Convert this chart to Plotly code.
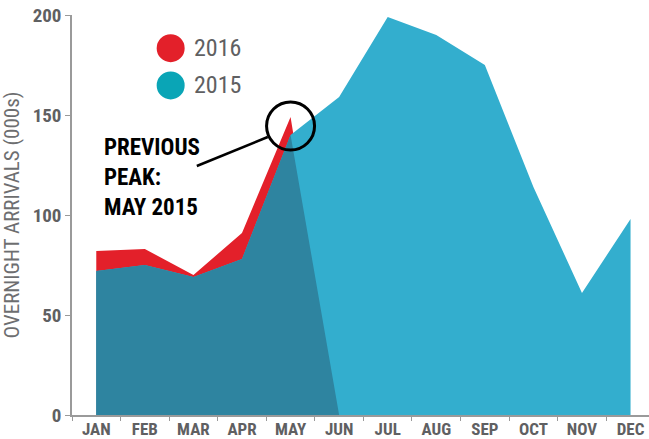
import plotly.graph_objects as go

months = ["JAN", "FEB", "MAR", "APR", "MAY", "JUN", "JUL", "AUG", "SEP", "OCT", "NOV", "DEC"]
arrivals_2015 = [72, 75, 69, 78, 140, 159, 199, 190, 175, 114, 61, 98]
arrivals_2016 = [82, 83, 70, 91, 149]  # Jan-May 2016

RED = "#E3202A"
TEAL = "#33AECE"
DARK = "#2E84A0"
LEG_TEAL = "#0AA5B6"
GREY = "#5F6062"
COND = "Liberation Sans Narrow, Roboto Condensed, DejaVu Sans Condensed, Liberation Sans, Arial"

n16 = len(arrivals_2016)
x16 = months[: n16 + 1]
y16 = arrivals_2016 + [0]
overlap = [min(a, b) for a, b in zip(arrivals_2015, arrivals_2016)] + [0]

fig = go.Figure()
fig.add_trace(go.Scatter(x=x16, y=y16, mode="lines", fill="tozeroy",
                         fillcolor=RED, line=dict(width=0, color=RED),
                         name="2016", showlegend=False, hoverinfo="skip"))
fig.add_trace(go.Scatter(x=months, y=arrivals_2015, mode="lines", fill="tozeroy",
                         fillcolor=TEAL, line=dict(width=0, color=TEAL),
                         name="2015", showlegend=False, hoverinfo="skip"))
fig.add_trace(go.Scatter(x=x16, y=overlap, mode="lines", fill="tozeroy",
                         fillcolor=DARK, line=dict(width=0, color=DARK),
                         name="overlap", showlegend=False, hoverinfo="skip"))

peak_idx = arrivals_2016.index(max(arrivals_2016))
peak_y = (arrivals_2015[peak_idx] + arrivals_2016[peak_idx]) / 2

shapes = [
    dict(type="circle", xref="x", yref="y", xsizemode="pixel", ysizemode="pixel",
         xanchor=peak_idx, yanchor=peak_y, x0=-24, x1=24, y0=-24, y1=24,
         line=dict(color="black", width=3)),
    dict(type="line", xref="x", yref="y", x0=2.07, y0=124.5, x1=3.53, y1=139,
         line=dict(color="black", width=2.5)),
    dict(type="circle", xref="paper", yref="paper", xsizemode="pixel", ysizemode="pixel",
         xanchor=0.171, yanchor=0.917, x0=-14, x1=14, y0=-14, y1=14,
         fillcolor=RED, line=dict(width=0)),
    dict(type="circle", xref="paper", yref="paper", xsizemode="pixel", ysizemode="pixel",
         xanchor=0.171, yanchor=0.824, x0=-14, x1=14, y0=-14, y1=14,
         fillcolor=LEG_TEAL, line=dict(width=0)),
]

annotations = [
    dict(xref="paper", yref="paper", x=0.208, y=0.917, text="2016", showarrow=False,
         xanchor="left", yanchor="middle", font=dict(family=COND, size=24, color=GREY)),
    dict(xref="paper", yref="paper", x=0.208, y=0.824, text="2015", showarrow=False,
         xanchor="left", yanchor="middle", font=dict(family=COND, size=24, color=GREY)),
    dict(xref="paper", yref="paper", x=0.052, y=0.595, text="PREVIOUS<br>PEAK:<br>MAY 2015",
         showarrow=False, xanchor="left", yanchor="middle", align="left",
         font=dict(family=COND, size=23, color="black", weight="bold")),
]

fig.update_layout(
    width=649, height=439,
    margin=dict(l=72, r=0, t=15, b=24, autoexpand=False),
    paper_bgcolor="white", plot_bgcolor="white",
    showlegend=False,
    shapes=shapes, annotations=annotations,
    xaxis=dict(type="category", range=[-0.5, 11.38], tickson="boundaries",
               ticks="outside", ticklen=4, tickcolor="#9A9A9A", automargin=False,
               ticklabelstandoff=-2,
               showline=True, linecolor="#9A9A9A", linewidth=1.5,
               showgrid=False, zeroline=False,
               tickfont=dict(family=COND, size=17, color=GREY, weight="bold")),
    yaxis=dict(range=[0, 200], tickvals=[0, 50, 100, 150, 200], automargin=False,
               ticks="outside", ticklen=5, tickcolor="#9A9A9A",
               showline=True, linecolor="#9A9A9A", linewidth=1.5,
               showgrid=False, zeroline=False,
               tickfont=dict(family=COND, size=19, color=GREY, weight="bold"),
               title=dict(text="OVERNIGHT ARRIVALS (000s)", standoff=10,
                          font=dict(family=COND, size=21, color="#6D6E70"))),
)

fig.write_html("out.html", config={"displayModeBar": False},
               post_script="document.body.style.margin='0';document.body.style.overflow='hidden';")
